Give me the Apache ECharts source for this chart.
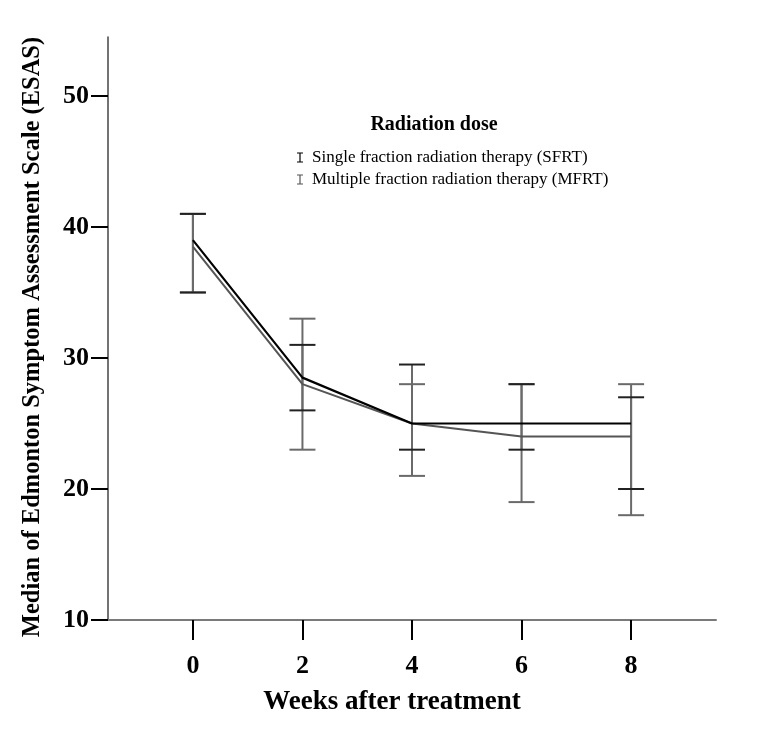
<!DOCTYPE html>
<html>
<head>
<meta charset="utf-8">
<script src="https://cdn.jsdelivr.net/npm/echarts@6/dist/echarts.min.js"></script>
<style>html,body{margin:0;padding:0;background:#fff}#c{width:760px;height:736px}</style>
</head>
<body>
<div id="c"></div>
<script>
const weeks = [0, 2, 4, 6, 8];
const yTicks = [10, 20, 30, 40, 50];
const sfrtMedian = [39, 28.5, 25, 25, 25];
const mfrtMedian = [38.5, 28, 25, 24, 24];
const sfrtLow = [35, 26, 23, 23, 20];
const sfrtHigh = [41, 31, 29.5, 28, 27];
const mfrtLow = [35, 23, 21, 19, 18];
const mfrtHigh = [41, 33, 28, 28, 28];
const seriesNames = ['Single fraction radiation therapy (SFRT)', 'Multiple fraction radiation therapy (MFRT)'];

const FONT = "'Liberation Serif', 'Times New Roman', serif";
const chart = echarts.init(document.getElementById('c'), null, {renderer: 'canvas'});

function errData(low, high) {
  return weeks.map((w, i) => [w, low[i], high[i]]);
}
function errRender(capColor, lineColor) {
  return function (params, api) {
    const x = api.value(0);
    const lo = api.coord([x, api.value(1)]);
    const hi = api.coord([x, api.value(2)]);
    const hw = 13;
    return {
      type: 'group',
      children: [
        {type: 'line', shape: {x1: lo[0], y1: lo[1], x2: hi[0], y2: hi[1]}, style: {stroke: lineColor, lineWidth: 2}},
        {type: 'line', shape: {x1: lo[0] - hw, y1: lo[1], x2: lo[0] + hw, y2: lo[1]}, style: {stroke: capColor, lineWidth: 2}},
        {type: 'line', shape: {x1: hi[0] - hw, y1: hi[1], x2: hi[0] + hw, y2: hi[1]}, style: {stroke: capColor, lineWidth: 2}}
      ]
    };
  };
}

const ibeam = 'path://M0,0 L6,0 L6,1 L3.6,1 L3.6,9 L6,9 L6,10 L0,10 L0,9 L2.4,9 L2.4,1 L0,1 Z';

chart.setOption({
  animation: false,
  backgroundColor: '#fff',
  grid: {left: 108, right: 44, top: 37, bottom: 116, containLabel: false},
  xAxis: {
    type: 'value', min: -1.55, max: 9.55,
    axisLine: {onZero: false, lineStyle: {color: '#7a7a7a', width: 2}},
    axisTick: {customValues: weeks, length: 20, lineStyle: {color: '#000', width: 2}},
    axisLabel: {customValues: weeks, margin: 33, fontSize: 26, fontWeight: 'bold', color: '#000', fontFamily: FONT},
    splitLine: {show: false}
  },
  yAxis: {
    type: 'value', min: 10, max: 54.5,
    axisLine: {show: true, onZero: false, lineStyle: {color: '#444', width: 1.5}},
    axisTick: {show: true, customValues: yTicks, length: 17, lineStyle: {color: '#000', width: 2}},
    axisLabel: {customValues: yTicks, margin: 19, fontSize: 26, fontWeight: 'bold', color: '#000', fontFamily: FONT},
    splitLine: {show: false}
  },
  legend: {
    orient: 'vertical', left: 292, top: 144, itemGap: 5,
    itemWidth: 6, itemHeight: 10, icon: ibeam,
    textStyle: {fontFamily: FONT, fontSize: 17, color: '#000', padding: [0, 0, 0, 4]},
    data: seriesNames
  },
  graphic: [
    {type: 'text', style: {text: 'Radiation dose', font: "bold 20px 'Liberation Serif'", fill: '#000', textAlign: 'center', textVerticalAlign: 'middle'}, position: [434, 125]},
    {type: 'text', style: {text: 'Weeks after treatment', font: "bold 27px 'Liberation Serif'", fill: '#000', textAlign: 'center', textVerticalAlign: 'middle'}, position: [392, 702]},
    {type: 'text', rotation: Math.PI / 2, style: {text: 'Median of Edmonton Symptom Assessment Scale (ESAS)', font: "bold 24.5px 'Liberation Serif'", fill: '#000', textAlign: 'center', textVerticalAlign: 'middle'}, position: [33, 337]}
  ],
  series: [
    {type: 'custom', name: 'mfrtErr', renderItem: errRender('#6a6a6a', '#6a6a6a'), data: errData(mfrtLow, mfrtHigh), encode: {x: 0, y: [1, 2]}, z: 1},
    {type: 'custom', name: 'sfrtErr', renderItem: errRender('#222', '#6a6a6a'), data: errData(sfrtLow, sfrtHigh), encode: {x: 0, y: [1, 2]}, z: 2},
    {type: 'line', name: seriesNames[0], data: weeks.map((w, i) => [w, sfrtMedian[i]]), showSymbol: false, symbol: 'none', color: '#000', lineStyle: {color: '#000', width: 2.2}, z: 4},
    {type: 'line', name: seriesNames[1], data: weeks.map((w, i) => [w, mfrtMedian[i]]), showSymbol: false, symbol: 'none', color: '#555', lineStyle: {color: '#555', width: 2}, z: 3}
  ]
});
</script>
</body>
</html>
